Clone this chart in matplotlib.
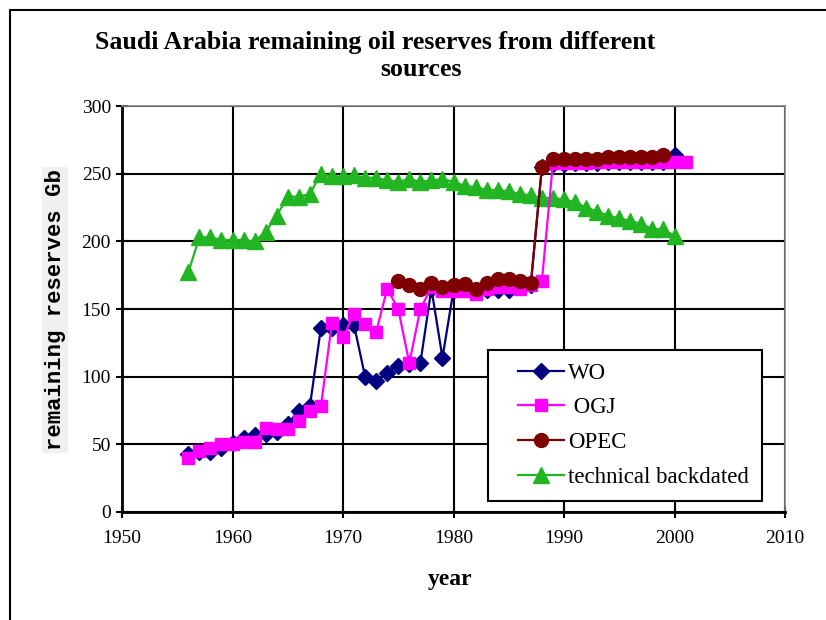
import matplotlib
matplotlib.use("Agg")
import matplotlib.pyplot as plt
import matplotlib.patches as mpatches
from matplotlib.lines import Line2D
from matplotlib.legend_handler import HandlerLine2D
import numpy as np

plt.rcParams["font.family"] = "Liberation Serif"

# ── Data ────────────────────────────────────────────────────────────────────
wo_years = np.arange(1956, 2001)
wo_vals = [43, 44, 44, 47, 51, 55, 57, 58, 59, 65, 75, 78, 136, 136, 138, 138,
           100, 97, 103, 108, 109, 110, 165, 114, 164, 165, 164, 164, 164, 164,
           167, 168, 255, 257, 257, 258, 258, 258, 259, 259, 259, 259, 259, 259, 264]

ogj_years = np.arange(1956, 2002)
ogj_vals = [40, 45, 47, 50, 50, 52, 52, 62, 61, 61, 67, 75, 78, 140, 129, 146,
            139, 133, 165, 150, 110, 150, 166, 163, 163, 163, 161, 165, 166, 166,
            165, 168, 171, 258, 258, 258, 258, 259, 259, 259, 259, 259, 259, 259,
            259, 259]

opec_years = np.arange(1975, 2000)
opec_vals = [171, 168, 165, 169.5, 166.5, 168, 168.5, 165, 169.5, 172, 172, 171,
             169.5, 255, 261, 261, 261, 261, 261, 262.5, 262.5, 262.5, 262.5,
             262.5, 264]

tech_years = np.arange(1956, 2001)
tech_vals = [177, 203, 203, 201, 201, 201, 200, 207, 219, 233, 233, 235, 250,
             248, 248, 249, 247, 247, 245, 244, 246, 244, 245, 246, 244, 241,
             240, 238, 238, 237, 235, 234, 232, 232, 231, 229, 225, 222, 219,
             217, 215, 213, 209, 209, 204]

x_ticks = [1950, 1960, 1970, 1980, 1990, 2000, 2010]
y_ticks = [0, 50, 100, 150, 200, 250, 300]

# ── Figure ──────────────────────────────────────────────────────────────────
fig = plt.figure(figsize=(8.26, 6.2), dpi=100, facecolor="white")
ax = fig.add_axes([0.1477, 0.1742, 0.8027, 0.6548])

# outer chart frame (cropped at right and bottom)
fig.patches.append(mpatches.Rectangle((10 / 826, -0.1), 1.2, 1.1 - 10 / 620,
                                      transform=fig.transFigure, fill=False,
                                      edgecolor="black", linewidth=1.5))

ax.plot(tech_years, tech_vals, color="#22B522", marker="^", markersize=11,
        linewidth=1.6, label="technical backdated", zorder=3)
ax.plot(wo_years, wo_vals, color="#000080", marker="D", markersize=8,
        linewidth=1.6, label="WO", zorder=4)
ax.plot(ogj_years, ogj_vals, color="#FF00FF", marker="s", markersize=9,
        markerfacecolor="#FF00FF", markeredgecolor="#FF00FF",
        linewidth=1.6, label=" OGJ", zorder=5)
ax.plot(opec_years, opec_vals, color="#800000", marker="o", markersize=10,
        linewidth=1.6, label="OPEC", zorder=6)

ax.set_xlim(1950, 2010)
ax.set_ylim(0, 300)
ax.set_xticks(x_ticks)
ax.set_yticks(y_ticks)
ax.tick_params(labelsize=14, direction="inout", length=8, width=1.5, colors="black")
ax.tick_params(axis="x", pad=9)
ax.tick_params(axis="y", pad=4)
ax.grid(True, color="black", linewidth=1.5)
ax.set_axisbelow(True)
for side in ["top", "right"]:
    ax.spines[side].set_color("#808080")
    ax.spines[side].set_linewidth(1.2)
for side in ["left", "bottom"]:
    ax.spines[side].set_linewidth(2)

fig.text(450 / 826, 1 - 580 / 620, "year", ha="center", va="center",
         fontsize=17, fontweight="bold")
fig.text(55 / 826, 1 - 310 / 620, "remaining reserves Gb", rotation=90,
         ha="center", va="center", fontsize=16, fontweight="bold",
         family="Liberation Mono",
         bbox=dict(boxstyle="square,pad=0.1", facecolor="#F0F0F0", edgecolor="none"))

fig.text(375 / 826, 1 - 42 / 620,
         "Saudi Arabia remaining oil reserves from different",
         ha="center", va="center", fontsize=18.6, fontweight="bold")
fig.text(421 / 826, 1 - 70 / 620, "sources",
         ha="center", va="center", fontsize=18.6, fontweight="bold")

handles, labels = ax.get_legend_handles_labels()
order = [1, 2, 3, 0]
leg = ax.legend([handles[i] for i in order], [labels[i] for i in order],
                loc="upper left", bbox_to_anchor=(0.552, 0.399), fontsize=16.5,
                frameon=True, fancybox=False, handlelength=2.75, labelspacing=0.6,
                handletextpad=0.2, borderpad=0.55, borderaxespad=0,
                handler_map={Line2D: HandlerLine2D(xpad=0.78)})
leg.get_frame().set_edgecolor("black")
leg.get_frame().set_linewidth(1.5)
leg.get_frame().set_alpha(1)

fig.savefig("out.png", dpi=100, facecolor="white")
